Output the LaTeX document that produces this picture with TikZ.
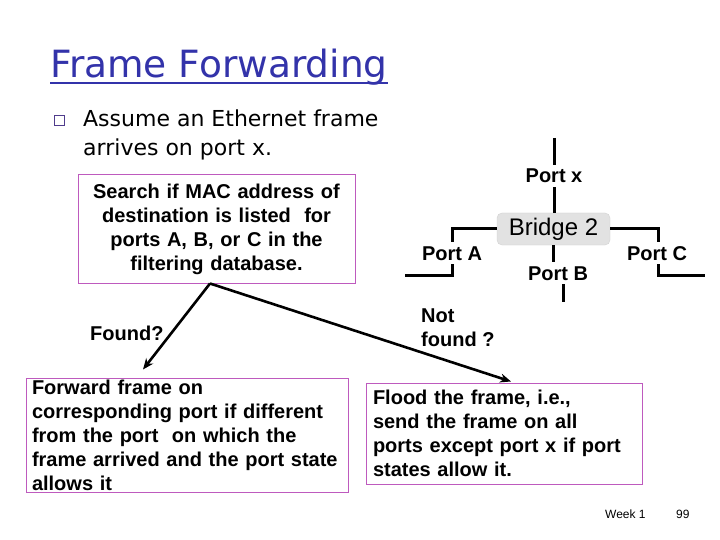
\documentclass[tikz,border=0pt]{standalone}
\usepackage{fontspec}
\setmainfont{Liberation Sans}
\newfontfamily\comicf{DejaVu Sans}
\usetikzlibrary{arrows.meta,calc}
\definecolor{titleblue}{RGB}{51,51,170}
\definecolor{boxpink}{RGB}{190,90,190}
\definecolor{bridgegray}{RGB}{226,226,226}
\definecolor{bulletc}{RGB}{80,60,140}
\begin{document}
\begin{tikzpicture}[x=1pt,y=-1pt,
  box/.style={draw=boxpink, line width=1pt, inner sep=0pt, font=\bfseries\fontsize{20}{24}\selectfont},
  lbl/.style={font=\bfseries\fontsize{20}{24}\selectfont, inner sep=0pt},
  arr/.style={line width=2.6pt, -{Stealth[length=11pt,width=9pt]}},
  wire/.style={line width=3pt},
  port/.style={font=\bfseries\fontsize{20}{22}\selectfont, inner sep=0pt, text height=14pt, text depth=0pt}]
\useasboundingbox[fill=white] (0,0) rectangle (720,540);

% title
\node[anchor=base west, inner sep=0pt, text=titleblue, font=\comicf\fontsize{37.5}{40}\selectfont] (title) at (50,78) {Frame Forwarding};
\draw[titleblue, line width=2pt] ([yshift=-5pt]title.base west) -- ([yshift=-5pt]title.base east);

% bullet
\node[draw=bulletc, line width=1pt, minimum size=10pt, inner sep=0pt] (bullet) at (59.5,121) {};
\node[anchor=north west, inner sep=0pt, align=left, font=\comicf\fontsize{22}{29}\selectfont] (assume) at (83,110) {Assume an Ethernet frame\\arrives on port x.};

% boxes
\node[box, minimum width=277pt, minimum height=108pt, text width=270pt, align=center] (search) at (216.5,229)
  {Search if MAC address of\\destination is listed\ \ for\\ports A, B, or C in the\\filtering database.};
\node[box, minimum width=322pt, minimum height=114pt, text width=310pt, align=left] (fwd) at (187,435)
  {Forward frame on\\corresponding port if different\\from the port\ \ on which the\\frame arrived and the port state\\allows it};
\node[box, minimum width=276pt, minimum height=101pt, text width=262pt, align=left] (flood) at (504,433.5)
  {Flood the frame, i.e.,\\send the frame on all\\ports except port x if port\\states allow it.};

% arrows
\coordinate (split) at ([xshift=-6.5pt]search.south);
\draw[arr] (split) -- ([xshift=-44pt,yshift=8pt]fwd.north);
\draw[arr] (split) -- ([xshift=7pt,yshift=1pt]flood.north);
\node[lbl, anchor=west] (found) at (90,333) {Found?};
\node[lbl, anchor=west, align=left] (notfound) at (421,328) {Not\\found ?};

% bridge
\node[fill=bridgegray, draw=gray!35, rounded corners=5pt, minimum width=113pt, minimum height=32pt, inner sep=0pt, font=\fontsize{24}{26}\selectfont] (bridge) at (553.5,229) {Bridge 2};
\node[port] (px) at (554,176) {Port x};
\node[port] (pa) at (452,253) {Port A};
\node[port] (pb) at (558,273) {Port B};
\node[port] (pc) at (657,253) {Port C};
\coordinate (xend) at (554,138);
\coordinate (aend) at (405,275);
\coordinate (bend) at (563,302);
\coordinate (cend) at (705,275);
\draw[wire] (xend) -- ([yshift=4pt]px.north);
\draw[wire] ([yshift=-4pt]px.south) -- (px.south |- bridge.north);
\draw[wire] (bridge.west) -| ([yshift=4pt]pa.north);
\draw[wire] ([yshift=-4pt]pa.south) |- (aend);
\draw[wire] (bridge.east) -| ([yshift=4pt,xshift=1pt]pc.north);
\draw[wire] ([yshift=-4pt,xshift=1pt]pc.south) |- (cend);
\draw[wire] (bridge.south) -- ([xshift=-4.5pt,yshift=4pt]pb.north);
\draw[wire] ([xshift=5pt,yshift=-4pt]pb.south) -- (bend);

% footer
\node[anchor=west, inner sep=0pt, font=\fontsize{12}{14}\selectfont] (week) at (605,514) {Week 1};
\node[anchor=west, inner sep=0pt, font=\fontsize{12}{14}\selectfont] (page) at (676,514) {99};
\end{tikzpicture}
\end{document}
